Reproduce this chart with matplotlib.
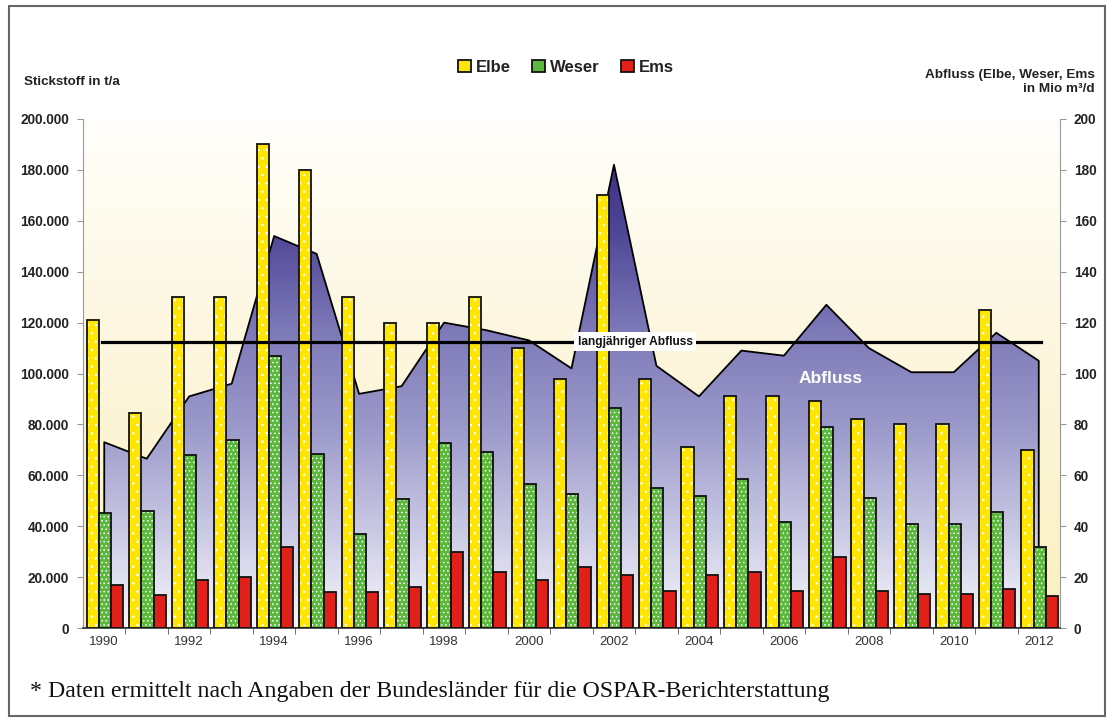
import numpy as np
import matplotlib
matplotlib.use("Agg")
from matplotlib import pyplot as plt
from matplotlib.colors import LinearSegmentedColormap
from matplotlib.patches import Rectangle

plt.rcParams['font.family'] = ['Liberation Sans', 'DejaVu Sans']
plt.rcParams['hatch.linewidth'] = 0.6

years = list(range(1990, 2013))

# Stickstoff in t/a
elbe = [121000, 84500, 130000, 130000, 190000, 180000, 130000, 120000, 120000,
        130000, 110000, 98000, 170000, 98000, 71000, 91000, 91000, 89000,
        82000, 80000, 80000, 125000, 70000]
weser = [45000, 46000, 68000, 74000, 107000, 68500, 37000, 50500, 72500,
         69000, 56500, 52500, 86500, 55000, 52000, 58500, 41500, 79000,
         51000, 41000, 41000, 45500, 32000]
ems = [17000, 13000, 19000, 20000, 32000, 14000, 14000, 16000, 30000,
       22000, 19000, 24000, 21000, 14500, 21000, 22000, 14500, 28000,
       14500, 13500, 13500, 15500, 12500]

# Abfluss in Mio m3/d
abfluss = [73, 66.5, 91, 96, 154, 147, 92, 95, 120, 117, 113, 102, 182, 103,
           91, 109, 107, 127, 110, 100.5, 100.5, 116, 105]
langjaehrig = 112.5

fig = plt.figure(figsize=(11.13, 7.22), dpi=100)
ax = fig.add_axes([83 / 1113, 94 / 722, 977 / 1113, 509 / 722])

x = np.arange(len(years))
ax.set_xlim(-0.5, len(years) - 0.5)
ax.set_ylim(0, 200000)

# background gradient of the plot area
bg = LinearSegmentedColormap.from_list('bg', ['#fcefbd', '#fdf6dc', '#fffefa'])
grad = np.linspace(0, 1, 256).reshape(-1, 1)
ax.imshow(grad, cmap=bg, origin='lower', aspect='auto',
          extent=[-0.5, len(years) - 0.5, 0, 200000], zorder=0)

# Abfluss area with vertical gradient
flow = np.array(abfluss) * 1000
area = ax.fill_between(x, flow, facecolor='none', edgecolor='black',
                       linewidth=1.3, zorder=2)
purple = LinearSegmentedColormap.from_list(
    'abfluss', ['#f7f7fb', '#c9c8e4', '#9c9acb', '#7d79b8', '#4f4696', '#34287f'])
im = ax.imshow(grad, cmap=purple, origin='lower', aspect='auto',
               extent=[-0.5, len(years) - 0.5, 0, 195000], zorder=1)
im.set_clip_path(area.get_paths()[0], ax.transData)

# bars
w = 0.287
series = [(elbe, '#ffe600', -0.267, 'Elbe', '..'),
          (weser, '#5cb83c', -0.267 + w, 'Weser', '....'),
          (ems, '#e02019', -0.267 + 2 * w, 'Ems', None)]
handles = []
for vals, col, off, name, hatch in series:
    if hatch:
        ax.bar(x + off, vals, w, color=col, edgecolor='white', hatch=hatch,
               linewidth=0, zorder=3)
        ax.bar(x + off, vals, w, color='none', edgecolor='#111111',
               linewidth=1.3, zorder=3)
    else:
        ax.bar(x + off, vals, w, color=col, edgecolor='#111111',
               linewidth=1.3, zorder=3)
    handles.append(Rectangle((0, 0), 1, 1, facecolor=col,
                             edgecolor='#111111', linewidth=1.3))

# long-term mean flow
ax.plot([-0.05, len(years) - 0.95], [langjaehrig * 1000] * 2, color='black',
        linewidth=2.3, zorder=4)
ax.text(12.5, langjaehrig * 1000, 'langjähriger Abfluss', fontsize=8.6,
        fontweight='bold', ha='center', va='center', color='#111111', zorder=5,
        bbox=dict(facecolor='white', edgecolor='none', pad=2.5))
ax.text(17.1, 98000, 'Abfluss', fontsize=12.5, fontweight='bold',
        color='white', ha='center', va='center', zorder=5)

# axes styling
ax.spines['top'].set_visible(False)
ax.spines['right'].set_visible(False)
ax.spines['left'].set_color('#999999')
ax.spines['bottom'].set_color('#333333')
ax.spines['bottom'].set_linewidth(1.2)

yt = np.arange(0, 200001, 20000)
ax.set_yticks(yt)
ax.set_yticklabels([f'{int(v):,}'.replace(',', '.') for v in yt],
                   fontsize=9.8, fontweight='bold', color='#222222')
ax.tick_params(axis='y', direction='out', length=4, color='#999999', pad=6)

ax.set_xticks(x[::2])
ax.set_xticklabels([str(y) for y in years[::2]], fontsize=9.5, color='#333333')
ax.set_xticks(np.arange(0.5, len(years) - 0.5, 1), minor=True)
ax.tick_params(axis='x', which='major', length=0, pad=6)
ax.tick_params(axis='x', which='minor', length=4, color='#555555')

sec = ax.secondary_yaxis('right', functions=(lambda v: v / 1000,
                                             lambda v: v * 1000))
sec.set_yticks(np.arange(0, 201, 20))
sec.tick_params(direction='out', length=4, color='#999999', pad=6,
                labelsize=9.8, labelcolor='#222222')
for lab in sec.get_yticklabels():
    lab.set_fontweight('bold')
sec.spines['right'].set_color('#999999')

# labels
fig.text(24 / 1113, 1 - 82 / 722, 'Stickstoff in t/a', fontsize=9.6,
         fontweight='bold', color='#222222', va='center', ha='left')
fig.text(1095 / 1113, 1 - 82 / 722, 'Abfluss (Elbe, Weser, Ems\nin Mio m³/d',
         fontsize=9.7, fontweight='bold', color='#222222', va='center',
         ha='right', multialignment='right', linespacing=1.15)

leg = fig.legend(handles=handles, labels=['Elbe', 'Weser', 'Ems'], ncol=3,
                 loc='center', bbox_to_anchor=(566 / 1113, 1 - 67 / 722),
                 frameon=False, handlelength=0.75, handleheight=0.75,
                 handletextpad=0.3, columnspacing=1.3,
                 prop={'weight': 'bold', 'size': 12})
for t in leg.get_texts():
    t.set_color('#222222')

fig.text(30 / 1113, 1 - 692 / 722,
         '* Daten ermittelt nach Angaben der Bundesländer für die OSPAR-Berichterstattung',
         fontsize=17.2, family=['Liberation Serif', 'DejaVu Serif'],
         color='#111111', va='center', ha='left')

fig.add_artist(Rectangle((9 / 1113, 1 - 716 / 722), 1096 / 1113, 710 / 722,
                         transform=fig.transFigure, fill=False,
                         edgecolor='#666666', linewidth=1.5))

fig.savefig('out.png', dpi=100)
